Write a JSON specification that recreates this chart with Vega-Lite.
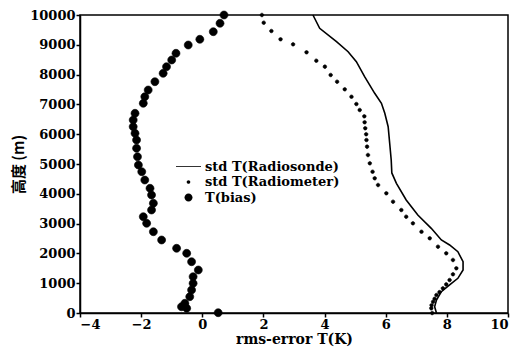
{
  "$schema": "https://vega.github.io/schema/vega-lite/v6.json",
  "width": 428,
  "height": 298,
  "padding": {"left": 80, "top": 15, "right": 5, "bottom": 41},
  "autosize": {"type": "none"},
  "background": "white",
  "config": {
    "view": {"stroke": "black", "strokeWidth": 1.5},
    "axis": {
      "grid": false,
      "domainColor": "black",
      "domainWidth": 1.5,
      "tickColor": "black",
      "tickWidth": 1.5,
      "labelFont": "DejaVu Serif",
      "labelFontWeight": "bold",
      "labelFontSize": 13,
      "labelColor": "black",
      "titleColor": "black"
    },
    "legend": {
      "labelFont": "DejaVu Serif",
      "labelFontWeight": "bold",
      "labelFontSize": 13,
      "labelColor": "black"
    }
  },
  "data": {
    "values": [
      {"series": "std T(Radiosonde)", "h": 10000, "t": 3.62},
      {"series": "std T(Radiosonde)", "h": 9554, "t": 3.84},
      {"series": "std T(Radiosonde)", "h": 9104, "t": 4.39},
      {"series": "std T(Radiosonde)", "h": 8768, "t": 4.77},
      {"series": "std T(Radiosonde)", "h": 8433, "t": 5.04},
      {"series": "std T(Radiosonde)", "h": 7930, "t": 5.31},
      {"series": "std T(Radiosonde)", "h": 7372, "t": 5.64},
      {"series": "std T(Radiosonde)", "h": 7037, "t": 5.86},
      {"series": "std T(Radiosonde)", "h": 6701, "t": 5.97},
      {"series": "std T(Radiosonde)", "h": 6252, "t": 6.08},
      {"series": "std T(Radiosonde)", "h": 5695, "t": 6.13},
      {"series": "std T(Radiosonde)", "h": 5134, "t": 6.18},
      {"series": "std T(Radiosonde)", "h": 4700, "t": 6.2},
      {"series": "std T(Radiosonde)", "h": 4352, "t": 6.35},
      {"series": "std T(Radiosonde)", "h": 3792, "t": 6.67},
      {"series": "std T(Radiosonde)", "h": 3289, "t": 7.05},
      {"series": "std T(Radiosonde)", "h": 2842, "t": 7.49},
      {"series": "std T(Radiosonde)", "h": 2450, "t": 7.82},
      {"series": "std T(Radiosonde)", "h": 2282, "t": 8.09},
      {"series": "std T(Radiosonde)", "h": 2057, "t": 8.36},
      {"series": "std T(Radiosonde)", "h": 1721, "t": 8.53},
      {"series": "std T(Radiosonde)", "h": 1443, "t": 8.53},
      {"series": "std T(Radiosonde)", "h": 1164, "t": 8.36},
      {"series": "std T(Radiosonde)", "h": 940, "t": 8.09},
      {"series": "std T(Radiosonde)", "h": 715, "t": 7.82},
      {"series": "std T(Radiosonde)", "h": 436, "t": 7.66},
      {"series": "std T(Radiosonde)", "h": 211, "t": 7.6},
      {"series": "std T(Radiosonde)", "h": 0, "t": 7.66},

      {"series": "std T(Radiometer)", "h": 10000, "t": 1.95},
      {"series": "std T(Radiometer)", "h": 9742, "t": 2.01},
      {"series": "std T(Radiometer)", "h": 9463, "t": 2.26},
      {"series": "std T(Radiometer)", "h": 9185, "t": 2.56},
      {"series": "std T(Radiometer)", "h": 9016, "t": 2.97},
      {"series": "std T(Radiometer)", "h": 8748, "t": 3.41},
      {"series": "std T(Radiometer)", "h": 8467, "t": 3.73},
      {"series": "std T(Radiometer)", "h": 8266, "t": 4.01},
      {"series": "std T(Radiometer)", "h": 7987, "t": 4.2},
      {"series": "std T(Radiometer)", "h": 7762, "t": 4.41},
      {"series": "std T(Radiometer)", "h": 7506, "t": 4.66},
      {"series": "std T(Radiometer)", "h": 7258, "t": 4.88},
      {"series": "std T(Radiometer)", "h": 7013, "t": 5.04},
      {"series": "std T(Radiometer)", "h": 6812, "t": 5.15},
      {"series": "std T(Radiometer)", "h": 6600, "t": 5.3},
      {"series": "std T(Radiometer)", "h": 6400, "t": 5.31},
      {"series": "std T(Radiometer)", "h": 6200, "t": 5.33},
      {"series": "std T(Radiometer)", "h": 6000, "t": 5.36},
      {"series": "std T(Radiometer)", "h": 5805, "t": 5.37},
      {"series": "std T(Radiometer)", "h": 5582, "t": 5.39},
      {"series": "std T(Radiometer)", "h": 5302, "t": 5.42},
      {"series": "std T(Radiometer)", "h": 5023, "t": 5.48},
      {"series": "std T(Radiometer)", "h": 4742, "t": 5.57},
      {"series": "std T(Radiometer)", "h": 4520, "t": 5.64},
      {"series": "std T(Radiometer)", "h": 4295, "t": 5.75},
      {"series": "std T(Radiometer)", "h": 4017, "t": 6.02},
      {"series": "std T(Radiometer)", "h": 3735, "t": 6.24},
      {"series": "std T(Radiometer)", "h": 3456, "t": 6.51},
      {"series": "std T(Radiometer)", "h": 3232, "t": 6.67},
      {"series": "std T(Radiometer)", "h": 3010, "t": 6.89},
      {"series": "std T(Radiometer)", "h": 2728, "t": 7.17},
      {"series": "std T(Radiometer)", "h": 2507, "t": 7.44},
      {"series": "std T(Radiometer)", "h": 2225, "t": 7.71},
      {"series": "std T(Radiometer)", "h": 2003, "t": 7.98},
      {"series": "std T(Radiometer)", "h": 1779, "t": 8.2},
      {"series": "std T(Radiometer)", "h": 1500, "t": 8.31},
      {"series": "std T(Radiometer)", "h": 1300, "t": 8.2},
      {"series": "std T(Radiometer)", "h": 1107, "t": 8.09},
      {"series": "std T(Radiometer)", "h": 960, "t": 7.98},
      {"series": "std T(Radiometer)", "h": 829, "t": 7.87},
      {"series": "std T(Radiometer)", "h": 700, "t": 7.76},
      {"series": "std T(Radiometer)", "h": 604, "t": 7.66},
      {"series": "std T(Radiometer)", "h": 480, "t": 7.6},
      {"series": "std T(Radiometer)", "h": 379, "t": 7.55},
      {"series": "std T(Radiometer)", "h": 260, "t": 7.5},
      {"series": "std T(Radiometer)", "h": 158, "t": 7.49},
      {"series": "std T(Radiometer)", "h": 0, "t": 7.52},

      {"series": "T(bias)", "h": 10000, "t": 0.71},
      {"series": "T(bias)", "h": 9722, "t": 0.58},
      {"series": "T(bias)", "h": 9440, "t": 0.36},
      {"series": "T(bias)", "h": 9185, "t": -0.08},
      {"series": "T(bias)", "h": 8993, "t": -0.46},
      {"series": "T(bias)", "h": 8715, "t": -0.86},
      {"series": "T(bias)", "h": 8490, "t": -1.0},
      {"series": "T(bias)", "h": 8265, "t": -1.17},
      {"series": "T(bias)", "h": 8043, "t": -1.28},
      {"series": "T(bias)", "h": 7762, "t": -1.55},
      {"series": "T(bias)", "h": 7483, "t": -1.77},
      {"series": "T(bias)", "h": 7258, "t": -1.88},
      {"series": "T(bias)", "h": 7037, "t": -1.93},
      {"series": "T(bias)", "h": 6701, "t": -2.2},
      {"series": "T(bias)", "h": 6477, "t": -2.26},
      {"series": "T(bias)", "h": 6252, "t": -2.26},
      {"series": "T(bias)", "h": 6030, "t": -2.2},
      {"series": "T(bias)", "h": 5805, "t": -2.15},
      {"series": "T(bias)", "h": 5527, "t": -2.15},
      {"series": "T(bias)", "h": 5245, "t": -2.12},
      {"series": "T(bias)", "h": 4966, "t": -2.09},
      {"series": "T(bias)", "h": 4742, "t": -1.98},
      {"series": "T(bias)", "h": 4463, "t": -1.88},
      {"series": "T(bias)", "h": 4185, "t": -1.71},
      {"series": "T(bias)", "h": 3960, "t": -1.66},
      {"series": "T(bias)", "h": 3681, "t": -1.6},
      {"series": "T(bias)", "h": 3456, "t": -1.66},
      {"series": "T(bias)", "h": 3232, "t": -1.93},
      {"series": "T(bias)", "h": 3010, "t": -1.82},
      {"series": "T(bias)", "h": 2728, "t": -1.6},
      {"series": "T(bias)", "h": 2450, "t": -1.33},
      {"series": "T(bias)", "h": 2171, "t": -0.84},
      {"series": "T(bias)", "h": 2003, "t": -0.51},
      {"series": "T(bias)", "h": 1721, "t": -0.35},
      {"series": "T(bias)", "h": 1443, "t": -0.13},
      {"series": "T(bias)", "h": 1218, "t": -0.3},
      {"series": "T(bias)", "h": 996, "t": -0.3},
      {"series": "T(bias)", "h": 772, "t": -0.35},
      {"series": "T(bias)", "h": 547, "t": -0.41},
      {"series": "T(bias)", "h": 326, "t": -0.57},
      {"series": "T(bias)", "h": 211, "t": -0.68},
      {"series": "T(bias)", "h": 158, "t": -0.51},
      {"series": "T(bias)", "h": 10, "t": 0.52}
    ]
  },
  "encoding": {
    "x": {
      "field": "t", "type": "quantitative",
      "scale": {"domain": [-4, 10], "nice": false},
      "axis": {"values": [-4, -2, 0, 2, 4, 6, 8, 10], "title": "rms-error T(K)", "titleFont": "DejaVu Serif", "titleFontWeight": "bold", "titleFontSize": 14, "titlePadding": 1, "tickSize": 4, "labelPadding": 1}
    },
    "y": {
      "field": "h", "type": "quantitative",
      "scale": {"domain": [0, 10000], "nice": false},
      "axis": {"values": [0, 1000, 2000, 3000, 4000, 5000, 6000, 7000, 8000, 9000, 10000], "format": "d", "title": "高度 (m)", "titleFont": "Noto Sans CJK SC", "titleFontWeight": "bold", "titleFontSize": 15, "titlePadding": 3, "tickSize": 4, "labelPadding": 1}
    }
  },
  "layer": [
    {
      "transform": [{"filter": "datum.series === 'std T(Radiosonde)'"}],
      "mark": {"type": "line", "color": "black", "strokeWidth": 1.6},
      "encoding": {"order": {"field": "h", "type": "quantitative"}}
    },
    {
      "transform": [{"filter": "datum.series !== 'std T(Radiosonde)'"}],
      "mark": {"type": "point", "filled": true, "fill": "black", "stroke": "black", "strokeWidth": 0.6, "opacity": 1, "size": 100},
      "encoding": {
        "shape": {
          "field": "series", "type": "nominal",
          "scale": {
            "domain": ["std T(Radiosonde)", "std T(Radiometer)", "T(bias)"],
            "range": [
              "M-2.5,-0.08H2.5V0.08H-2.5Z",
              "M-0.36,0A0.36,0.36,0,1,1,0.36,0A0.36,0.36,0,1,1,-0.36,0Z",
              "M-0.8,0A0.8,0.8,0,1,1,0.8,0A0.8,0.8,0,1,1,-0.8,0Z"
            ]
          },
          "legend": {"title": null, "orient": "none", "legendX": 102, "legendY": 145, "rowPadding": 1.5, "symbolStrokeColor": "black", "symbolFillColor": "black", "symbolStrokeWidth": 0.6, "symbolSize": 100, "labelOffset": 10}
        }
      }
    }
  ]
}
